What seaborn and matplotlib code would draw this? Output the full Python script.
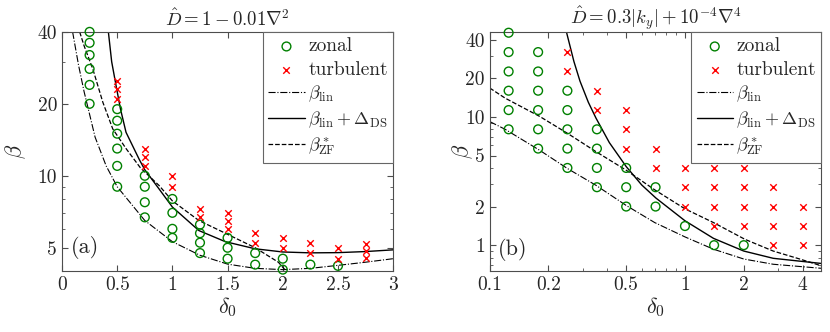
import pandas as pd
import seaborn as sns
import matplotlib.pyplot as plt
from matplotlib.ticker import NullFormatter

# ---------------- panel (a): D = 1 - 0.01 nabla^2 ----------------
zonal_a_delta = [0.25] * 6 + [0.5] * 6 + [0.75] * 4 + [1.0] * 4 + [1.25] * 4 + [1.5] * 3 + [1.75] * 2 + [2.0] * 2 + [2.25, 2.5]
zonal_a_beta = [20, 24, 28, 32, 36, 40,
                9, 11, 13, 15, 17, 19,
                6.7, 7.75, 9, 10,
                5.5, 6, 7, 8,
                4.75, 5.25, 5.75, 6.25,
                4.5, 5, 5.5,
                4.25, 4.75,
                4.05, 4.5,
                4.25, 4.2]
turb_a_delta = [0.5] * 3 + [0.75] * 3 + [1.0] * 2 + [1.25] * 2 + [1.5] * 3 + [1.75] * 2 + [2.0] * 2 + [2.25] * 2 + [2.5] * 2 + [2.75] * 3
turb_a_beta = [21, 23, 25,
               11, 12, 13,
               9, 10,
               6.75, 7.25,
               6, 6.5, 7,
               5.25, 5.75,
               5, 5.5,
               4.75, 5.25,
               4.5, 5,
               4.55, 4.85, 5.2]

lin_a_delta = [0.096, 0.15, 0.2, 0.3, 0.4, 0.5, 0.75, 1.0, 1.25, 1.5, 1.75, 2.0, 2.25, 2.5, 2.75, 3.0]
lin_a_beta = [40, 29, 22.5, 14.5, 11, 9, 6.5, 5.3, 4.65, 4.27, 4.1, 4.05, 4.1, 4.22, 4.35, 4.5]
ds_a_delta = [0.42, 0.45, 0.49, 0.53, 0.58, 0.7, 0.75, 0.88, 1.0, 1.24, 1.48, 1.75, 2.0, 2.25, 2.5, 2.75, 3.0]
ds_a_beta = [40, 30, 23.8, 19, 15.2, 11.7, 10.6, 8.8, 7.4, 5.9, 5.3, 4.95, 4.8, 4.76, 4.77, 4.82, 4.9]
zf_a_delta = [0.16, 0.2, 0.28, 0.37, 0.46, 0.58, 0.71, 0.88, 1.0, 1.24, 1.48, 1.75, 1.96, 2.05]
zf_a_beta = [40, 35, 27.9, 20.3, 15.7, 13, 10.8, 9.1, 7.85, 6.5, 5.75, 5.0, 4.35, 3.9]

# ---------------- panel (b): D = 0.3|ky| + 1e-4 nabla^4 ----------------
zonal_b_delta = [0.125] * 6 + [0.177] * 6 + [0.25] * 5 + [0.354] * 4 + [0.5] * 3 + [0.707] * 2 + [1.0, 1.41, 2.0]
zonal_b_beta = [8, 11.3, 16, 22.6, 32, 45.3,
                5.66, 8, 11.3, 16, 22.6, 32,
                4, 5.66, 8, 11.3, 16,
                2.83, 4, 5.66, 8,
                2, 2.83, 4,
                2, 2.83,
                1.41, 1, 1]
turb_b_delta = [0.25] * 2 + [0.354] * 2 + [0.5] * 3 + [0.707] * 2 + [1.0] * 3 + [1.41] * 4 + [2.0] * 4 + [2.83] * 4 + [4.0] * 3
turb_b_beta = [22.6, 32,
               11.3, 16,
               5.66, 8, 11.3,
               4, 5.66,
               2, 2.83, 4,
               1.41, 2, 2.83, 4,
               1.41, 2, 2.83, 4,
               1, 1.41, 2, 2.83,
               1, 1.41, 2]

lin_b_delta = [0.1, 0.12, 0.18, 0.25, 0.35, 0.5, 0.7, 1.0, 1.4, 2.0, 2.83, 5.0]
lin_b_beta = [9.2, 8.0, 5.5, 3.96, 2.93, 2.04, 1.5, 1.16, 0.93, 0.78, 0.71, 0.66]
ds_b_delta = [0.248, 0.27, 0.29, 0.32, 0.35, 0.41, 0.5, 0.6, 0.71, 1.0, 1.4, 2.0, 2.83, 5.0]
ds_b_beta = [45, 27, 19, 13, 9.8, 6.3, 4.1, 2.95, 2.33, 1.55, 1.13, 0.9, 0.79, 0.72]
zf_b_delta = [0.1, 0.12, 0.18, 0.25, 0.35, 0.5, 0.7, 1.0, 1.4, 2.03, 2.83, 3.87, 5.0]
zf_b_beta = [16.8, 14.0, 10.1, 7.45, 5.36, 3.84, 2.7, 1.92, 1.5, 1.11, 0.9, 0.78, 0.69]

sns.set_style('ticks')
plt.rcParams['font.family'] = ['cmr10', 'DejaVu Serif']
plt.rcParams['mathtext.fontset'] = 'cm'
plt.rcParams['axes.formatter.use_mathtext'] = True
plt.rcParams['axes.unicode_minus'] = False

fig = plt.figure(figsize=(8.3, 3.32), dpi=100)
ax_a = fig.add_axes([0.0747, 0.184, 0.399, 0.72])
ax_b = fig.add_axes([0.590, 0.184, 0.3997, 0.72])

green = '#008000'


def draw_panel(ax, zd, zb, td, tb, ld, lb, dd, db, fd, fb, ylab_x):
    sns.lineplot(x=ld, y=lb, ax=ax, color='k', lw=0.8, linestyle='-.', sort=False, estimator=None)
    sns.lineplot(x=dd, y=db, ax=ax, color='k', lw=1.0, linestyle='-', sort=False, estimator=None)
    sns.lineplot(x=fd, y=fb, ax=ax, color='k', lw=0.9, linestyle='--', sort=False, estimator=None)
    sns.scatterplot(x=zd, y=zb, ax=ax, marker='o', s=40, facecolor='none', edgecolor=green,
                    linewidth=1.0, clip_on=False, zorder=3)
    sns.scatterplot(x=td, y=tb, ax=ax, marker='x', s=22, color='red', linewidth=1.0,
                    clip_on=False, zorder=3)
    lines = ax.get_lines()
    colls = ax.collections
    handles = [colls[0], colls[1], lines[0], lines[1], lines[2]]
    labels = ['zonal', 'turbulent', r'$\beta_{\rm lin}$', r'$\beta_{\rm lin}+\Delta_{\rm DS}$',
              r'$\beta^*_{\rm ZF}$']
    leg = ax.legend(handles, labels, loc='upper right', borderaxespad=0, fancybox=False,
                    framealpha=1, edgecolor='0.4', fontsize=13, handlelength=2.0,
                    handletextpad=0.2, labelspacing=0.3, borderpad=0.3)
    leg.get_frame().set_linewidth(0.8)
    for t in leg.get_texts()[:2]:
        t.set_fontsize(14)
    ax.set_yscale('log')
    ax.tick_params(which='both', direction='in', top=True, right=True, labelsize=14,
                   color='0.3')
    ax.tick_params(which='major', length=4)
    ax.tick_params(which='minor', length=2)
    ax.yaxis.set_minor_formatter(NullFormatter())
    for sp in ax.spines.values():
        sp.set_color('0.3')
        sp.set_linewidth(0.8)
    ax.set_xlabel(r'$\delta_0$', fontsize=16, labelpad=1)
    ax.set_ylabel(r'$\beta$', fontsize=16)
    ax.yaxis.set_label_coords(ylab_x, 0.5)


draw_panel(ax_a, zonal_a_delta, zonal_a_beta, turb_a_delta, turb_a_beta,
           lin_a_delta, lin_a_beta, ds_a_delta, ds_a_beta, zf_a_delta, zf_a_beta, -0.103)
ax_a.set_xlim(0, 3)
ax_a.set_ylim(4.0, 40)
ax_a.set_xticks([0, 0.5, 1, 1.5, 2, 2.5, 3], labels=['0', '0.5', '1', '1.5', '2', '2.5', '3'])
ax_a.set_yticks([5, 10, 20, 40], labels=['5', '10', '20', '40'])
ax_a.set_title(r'$\hat{D}=1-0.01\nabla^2$', fontsize=13.5, pad=4)
ax_a.text(0.07, 0.1, '(a)', transform=ax_a.transAxes, fontsize=16, ha='center', va='center')

draw_panel(ax_b, zonal_b_delta, zonal_b_beta, turb_b_delta, turb_b_beta,
           lin_b_delta, lin_b_beta, ds_b_delta, ds_b_beta, zf_b_delta, zf_b_beta, -0.045)
ax_b.set_xscale('log')
ax_b.set_xlim(0.1, 5)
ax_b.set_ylim(0.63, 46)
ax_b.set_xticks([0.1, 0.2, 0.5, 1, 2, 4], labels=['0.1', '0.2', '0.5', '1', '2', '4'])
ax_b.xaxis.set_minor_formatter(NullFormatter())
ax_b.set_yticks([1, 2, 5, 10, 20, 40], labels=['1', '2', '5', '10', '20', '40'])
ax_b.set_title(r'$\hat{D}=0.3|k_y|+10^{-4}\nabla^4$', fontsize=13.5, pad=4)
ax_b.text(0.07, 0.09, '(b)', transform=ax_b.transAxes, fontsize=16, ha='center', va='center')

plt.savefig('out.png', dpi=100)
